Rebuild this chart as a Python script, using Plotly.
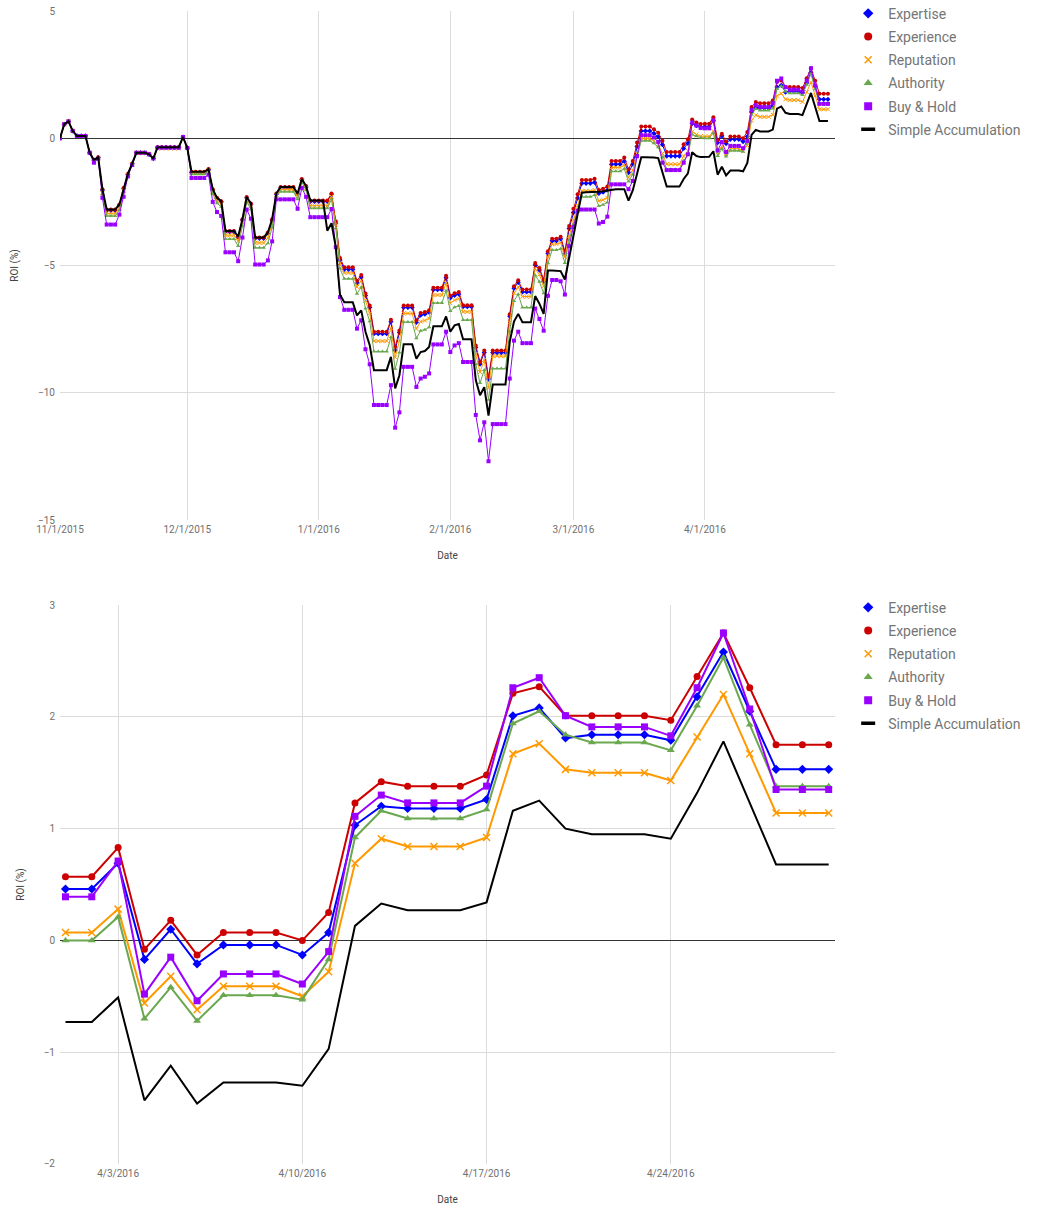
import pandas as pd
import plotly.graph_objects as go

# ---------------- data (ROI %, daily, 11/1/2015 .. 4/30/2016) ----------------
dates = pd.date_range("2015-11-01", "2016-04-30", freq="D")

experience = [
    # Nov
    0, 0.55, 0.66, 0.29, 0.09, 0.09, 0.09, -0.57, -0.85, -0.75, -2.0, -2.8, -2.8, -2.8, -2.6,
    -1.95, -1.4, -1.0, -0.57, -0.57, -0.57, -0.63, -0.79, -0.35, -0.35, -0.35, -0.35, -0.35, -0.35, 0.05,
    # Dec
    -0.38, -1.32, -1.32, -1.32, -1.32, -1.21, -2.0, -2.34, -2.47, -3.64, -3.64, -3.64, -3.86, -3.18, -2.31,
    -2.56, -3.9, -3.9, -3.9, -3.7, -3.18, -2.17, -1.91, -1.91, -1.91, -1.91, -2.17, -1.6, -1.88, -2.45, -2.45,
    # Jan
    -2.45, -2.45, -2.45, -2.17, -3.26, -4.7, -5.07, -5.07, -5.07, -5.6, -5.37, -6.1, -6.57, -7.6, -7.6,
    -7.6, -7.6, -7.13, -8.2, -7.55, -6.57, -6.57, -6.57, -7.15, -6.87, -6.83, -6.76, -5.87, -5.87, -5.87, -5.4,
    # Feb
    -6.19, -6.09, -6.04, -6.56, -6.56, -6.56, -8.14, -8.79, -8.34, -9.38, -8.34, -8.34, -8.34, -8.34, -6.91,
    -5.81, -5.58, -5.94, -5.94, -5.94, -4.9, -5.1, -5.55, -4.44, -3.95, -3.95, -3.87, -4.44, -3.45,
    # Mar
    -2.77, -2.2, -1.64, -1.64, -1.64, -1.59, -2.03, -1.98, -1.9, -0.89, -0.89, -0.89, -0.76, -1.22, -0.89,
    -0.17, 0.46, 0.46, 0.46, 0.35, 0.22, -0.1, -0.54, -0.54, -0.54, -0.54, -0.24, -0.04, 0.74, 0.62, 0.56,
    # Apr
    0.57, 0.57, 0.83, -0.08, 0.18, -0.13, 0.07, 0.07, 0.07, 0.0, 0.25, 1.23, 1.42, 1.38, 1.38,
    1.38, 1.48, 2.21, 2.27, 2.01, 2.01, 2.01, 2.01, 1.97, 2.36, 2.75, 2.26, 1.75, 1.75, 1.75,
]

expertise = [
    0, 0.55, 0.66, 0.29, 0.09, 0.09, 0.09, -0.57, -0.86, -0.76, -2.03, -2.83, -2.83, -2.83, -2.63,
    -1.97, -1.41, -1.0, -0.57, -0.57, -0.57, -0.63, -0.79, -0.36, -0.36, -0.36, -0.36, -0.36, -0.36, 0.05,
    -0.38, -1.35, -1.35, -1.35, -1.35, -1.24, -2.03, -2.37, -2.5, -3.67, -3.67, -3.67, -3.89, -3.21, -2.34,
    -2.59, -3.93, -3.93, -3.93, -3.73, -3.21, -2.2, -1.94, -1.94, -1.94, -1.94, -2.2, -1.63, -1.91, -2.48, -2.48,
    -2.48, -2.48, -2.48, -2.2, -3.34, -4.78, -5.15, -5.15, -5.15, -5.68, -5.45, -6.18, -6.65, -7.68, -7.68,
    -7.68, -7.68, -7.21, -8.33, -7.63, -6.65, -6.65, -6.65, -7.23, -6.95, -6.91, -6.84, -5.95, -5.95, -5.95, -5.48,
    -6.27, -6.17, -6.12, -6.62, -6.62, -6.62, -8.22, -8.87, -8.42, -9.46, -8.42, -8.42, -8.42, -8.42, -6.99,
    -5.89, -5.66, -6.04, -6.04, -6.04, -4.98, -5.18, -5.63, -4.52, -4.03, -4.03, -3.95, -4.52, -3.55,
    -2.92, -2.35, -1.77, -1.77, -1.77, -1.73, -2.17, -2.12, -2.04, -1.02, -1.02, -1.02, -0.9, -1.35, -1.02,
    -0.32, 0.29, 0.29, 0.29, 0.19, 0.06, -0.25, -0.7, -0.7, -0.7, -0.7, -0.4, -0.2, 0.58, 0.5, 0.45,
    0.46, 0.46, 0.69, -0.17, 0.10, -0.21, -0.04, -0.04, -0.04, -0.13, 0.07, 1.03, 1.20, 1.18, 1.18,
    1.18, 1.26, 2.01, 2.08, 1.81, 1.84, 1.84, 1.84, 1.79, 2.18, 2.58, 2.05, 1.53, 1.53, 1.53,
]

reputation = [
    0, 0.55, 0.66, 0.29, 0.09, 0.09, 0.09, -0.57, -0.9, -0.78, -2.15, -2.95, -2.95, -2.95, -2.75,
    -2.05, -1.45, -1.02, -0.57, -0.57, -0.57, -0.63, -0.79, -0.4, -0.4, -0.4, -0.4, -0.4, -0.4, 0.05,
    -0.38, -1.37, -1.37, -1.37, -1.37, -1.25, -2.1, -2.45, -2.59, -3.81, -3.81, -3.81, -4.05, -3.32, -2.41,
    -2.68, -4.11, -4.11, -4.11, -3.92, -3.35, -2.22, -2.01, -2.01, -2.01, -2.01, -2.29, -1.67, -1.96, -2.65, -2.65,
    -2.65, -2.65, -2.65, -2.29, -3.39, -4.9, -5.29, -5.29, -5.29, -5.84, -5.6, -6.38, -6.87, -7.97, -7.97,
    -7.97, -7.97, -7.46, -8.61, -7.97, -6.88, -6.88, -6.88, -7.49, -7.2, -7.16, -7.08, -6.16, -6.16, -6.16, -5.69,
    -6.48, -6.36, -6.3, -6.82, -6.82, -6.82, -8.49, -9.19, -8.71, -9.81, -8.56, -8.56, -8.56, -8.56, -7.24,
    -6.09, -5.84, -6.22, -6.22, -6.22, -5.13, -5.36, -5.81, -4.67, -4.16, -4.16, -4.1, -4.66, -3.85,
    -3.22, -2.65, -2.07, -2.07, -2.07, -2.03, -2.47, -2.42, -2.34, -1.15, -1.15, -1.15, -1.05, -1.55, -1.25,
    -0.6, -0.01, -0.01, -0.01, -0.1, -0.25, -0.6, -1.02, -1.02, -1.02, -1.02, -0.7, -0.5, 0.26, 0.15, 0.08,
    0.07, 0.07, 0.28, -0.56, -0.32, -0.62, -0.41, -0.41, -0.41, -0.50, -0.28, 0.69, 0.91, 0.84, 0.84,
    0.84, 0.92, 1.67, 1.76, 1.53, 1.50, 1.50, 1.50, 1.43, 1.82, 2.20, 1.67, 1.14, 1.14, 1.14,
]

authority = [
    0, 0.55, 0.66, 0.29, 0.09, 0.09, 0.09, -0.57, -0.92, -0.79, -2.2, -3.05, -3.05, -3.05, -2.82,
    -2.1, -1.47, -1.03, -0.57, -0.57, -0.57, -0.63, -0.79, -0.38, -0.38, -0.38, -0.38, -0.38, -0.38, 0.05,
    -0.38, -1.41, -1.41, -1.41, -1.41, -1.29, -2.19, -2.55, -2.69, -3.96, -3.96, -3.96, -4.23, -3.45, -2.5,
    -2.79, -4.3, -4.3, -4.3, -4.12, -3.51, -2.26, -2.1, -2.1, -2.1, -2.1, -2.4, -1.73, -2.04, -2.75, -2.75,
    -2.75, -2.75, -2.75, -2.4, -3.54, -5.12, -5.52, -5.52, -5.52, -6.11, -5.85, -6.69, -7.19, -8.38, -8.38,
    -8.38, -8.38, -7.82, -9.06, -8.42, -7.22, -7.22, -7.22, -7.86, -7.56, -7.52, -7.43, -6.47, -6.47, -6.47, -5.99,
    -6.79, -6.64, -6.58, -7.14, -7.14, -7.14, -8.88, -9.62, -9.1, -10.27, -9.05, -9.05, -9.05, -9.05, -7.59,
    -6.39, -6.13, -6.65, -6.65, -6.65, -5.38, -5.64, -6.09, -4.91, -4.39, -4.39, -4.34, -4.9, -4.0,
    -3.39, -2.82, -2.3, -2.3, -2.3, -2.23, -2.66, -2.61, -2.52, -1.3, -1.3, -1.3, -1.2, -1.7, -1.42,
    -0.75, -0.1, -0.1, -0.1, -0.2, -0.35, -0.75, -1.22, -1.22, -1.22, -1.22, -0.88, -0.65, 0.15, 0.08, 0.02,
    0.0, 0.0, 0.21, -0.70, -0.42, -0.72, -0.49, -0.49, -0.49, -0.53, -0.17, 0.92, 1.16, 1.09, 1.09,
    1.09, 1.17, 1.94, 2.05, 1.84, 1.77, 1.77, 1.77, 1.70, 2.10, 2.53, 1.93, 1.38, 1.38, 1.38,
]

buy_hold = [
    0, 0.55, 0.66, 0.29, 0.09, 0.09, 0.09, -0.57, -0.96, -0.8, -2.34, -3.39, -3.39, -3.39, -3.0,
    -2.3, -1.5, -1.05, -0.57, -0.57, -0.57, -0.63, -0.79, -0.37, -0.37, -0.37, -0.37, -0.37, -0.37, 0.05,
    -0.38, -1.56, -1.56, -1.56, -1.56, -1.43, -2.5, -2.9, -3.05, -4.48, -4.48, -4.48, -4.83, -3.9, -2.8,
    -3.16, -4.96, -4.96, -4.96, -4.8, -4.05, -2.4, -2.4, -2.4, -2.4, -2.4, -2.77, -1.95, -2.3, -3.1, -3.1,
    -3.1, -3.1, -3.1, -2.78, -4.28, -6.24, -6.74, -6.74, -6.74, -7.48, -7.15, -8.29, -8.88, -10.48, -10.48,
    -10.48, -10.48, -9.7, -11.37, -10.77, -8.98, -8.98, -8.98, -9.77, -9.44, -9.37, -9.24, -8.1, -8.1, -8.1, -7.6,
    -8.4, -8.14, -8.05, -8.79, -8.79, -8.79, -10.87, -11.87, -11.16, -12.69, -11.23, -11.23, -11.23, -11.23, -9.44,
    -7.95, -7.6, -8.05, -8.05, -8.05, -6.69, -7.1, -7.56, -6.19, -5.57, -5.57, -5.62, -6.14, -4.24,
    -3.49, -2.85, -2.8, -2.8, -2.8, -2.8, -3.35, -3.29, -3.08, -1.81, -1.81, -1.81, -1.81, -2.0, -1.68,
    -0.7, 0.12, 0.12, 0.12, 0.03, -0.14, -0.96, -1.25, -1.25, -1.25, -1.25, -0.96, -0.63, 0.62, 0.5, 0.4,
    0.39, 0.39, 0.71, -0.48, -0.15, -0.54, -0.30, -0.30, -0.30, -0.39, -0.10, 1.11, 1.30, 1.23, 1.23,
    1.23, 1.38, 2.26, 2.35, 2.01, 1.91, 1.91, 1.91, 1.83, 2.26, 2.75, 2.07, 1.35, 1.35, 1.35,
]

simple_acc = [
    0, 0.55, 0.66, 0.29, 0.09, 0.09, 0.09, -0.57, -0.85, -0.75, -2.0, -2.8, -2.8, -2.8, -2.6,
    -1.95, -1.4, -1.0, -0.57, -0.57, -0.57, -0.63, -0.79, -0.35, -0.35, -0.35, -0.35, -0.35, -0.35, 0.05,
    -0.38, -1.32, -1.32, -1.32, -1.32, -1.21, -2.0, -2.34, -2.47, -3.64, -3.64, -3.64, -3.86, -3.18, -2.31,
    -2.56, -3.9, -3.9, -3.9, -3.7, -3.18, -2.17, -1.91, -1.91, -1.91, -1.91, -2.17, -1.6, -1.88, -2.45, -2.45,
    -2.45, -2.45, -3.63, -3.34, -4.28, -6.15, -6.44, -6.44, -6.44, -6.96, -6.76, -7.6, -8.13, -9.11, -9.11,
    -9.11, -9.11, -8.59, -9.83, -9.31, -8.09, -8.09, -8.09, -8.66, -8.4, -8.36, -8.2, -7.39, -7.39, -7.39, -7.0,
    -7.6, -7.35, -7.3, -7.9, -7.9, -7.9, -9.5, -10.1, -9.78, -10.9, -9.67, -9.67, -9.67, -9.67, -8.0,
    -7.2, -6.9, -7.23, -7.23, -7.23, -6.2, -6.5, -6.9, -5.2, -5.2, -5.2, -5.22, -5.55, -4.63,
    -3.85, -2.99, -2.14, -2.12, -2.12, -2.1, -2.1, -2.08, -2.05, -2.0, -2.0, -2.0, -2.0, -2.45, -2.05,
    -1.4, -0.75, -0.75, -0.75, -0.76, -0.78, -1.3, -1.9, -1.9, -1.9, -1.9, -1.6, -1.38, -0.55, -0.7, -0.74,
    -0.73, -0.73, -0.51, -1.43, -1.12, -1.46, -1.27, -1.27, -1.27, -1.30, -0.97, 0.13, 0.33, 0.27, 0.27,
    0.27, 0.34, 1.16, 1.25, 1.00, 0.95, 0.95, 0.95, 0.91, 1.32, 1.78, 1.23, 0.68, 0.68, 0.68,
]

series_names = ["Expertise", "Experience", "Reputation", "Authority", "Buy & Hold", "Simple Accumulation"]
series_values = [expertise, experience, reputation, authority, buy_hold, simple_acc]
series_colors = ["#0000ff", "#cc0000", "#ff9900", "#6aa84f", "#9900ff", "#000000"]
series_symbols = ["diamond", "circle", "x-thin", "triangle-up", "square", None]

top_xticks = ["2015-11-01", "2015-12-01", "2016-01-01", "2016-02-01", "2016-03-01", "2016-04-01"]
bottom_xticks = ["2016-04-03", "2016-04-10", "2016-04-17", "2016-04-24"]
top_yticks = [-15, -10, -5, 0, 5]
bottom_yticks = [-2, -1, 0, 1, 2, 3]
april_start = 152  # index of 4/1/2016

FONT = "Roboto, Arial, sans-serif"
fig = go.Figure()


def add_series(xv, yv, name, color, symbol, xa, ya, big):
    if symbol is None:
        fig.add_trace(go.Scatter(x=xv, y=yv, mode="lines", name=name, showlegend=False,
                                 line=dict(color=color, width=2), xaxis=xa, yaxis=ya))
        return
    msize = 7 if big else 4
    lw = 2 if big else 1
    marker = dict(symbol=symbol, size=msize, color=color)
    if symbol == "x-thin":
        marker = dict(symbol=symbol, size=msize, color=color,
                      line=dict(width=1.5 if big else 1, color=color))
    fig.add_trace(go.Scatter(x=xv, y=yv, mode="lines+markers", name=name, showlegend=False,
                             line=dict(color=color, width=lw), marker=marker, xaxis=xa, yaxis=ya))


for nm, vals, col, sym in zip(series_names, series_values, series_colors, series_symbols):
    add_series(dates, vals, nm, col, sym, "x", "y", False)
for nm, vals, col, sym in zip(series_names, series_values, series_colors, series_symbols):
    add_series(dates[april_start:], vals[april_start:], nm, col, sym, "x2", "y2", True)

# legend-only entries (marker symbols like the reference)
for lg in ["legend", "legend2"]:
    for nm, col, sym in zip(series_names, series_colors, series_symbols):
        if sym is None:
            mk = dict(symbol="line-ew", size=10, line=dict(width=3.5, color=col))
        elif sym == "x-thin":
            mk = dict(symbol=sym, size=7, color=col, line=dict(width=1.5, color=col))
        else:
            mk = dict(symbol=sym, size=8, color=col)
        fig.add_trace(go.Scatter(x=[None], y=[None], mode="markers", name=nm, marker=mk,
                                 legend=lg, legendgroup=lg + nm, showlegend=True,
                                 xaxis="x", yaxis="y"))

grid = "#dcdcdc"
tickfont = dict(family=FONT, size=10, color="#6f6f6f")
titlefont = dict(family=FONT, size=10, color="#444444")

fig.update_layout(
    width=1043, height=1206, autosize=False,
    margin=dict(l=60, r=208, t=11, b=42, autoexpand=False),
    paper_bgcolor="white", plot_bgcolor="white",
    font=dict(family=FONT),
    hovermode=False,
    xaxis=dict(domain=[0, 1], anchor="y", type="date",
               range=["2015-11-01", "2016-05-01 16:00"],
               tickvals=top_xticks, tickformat="%-m/%-d/%Y",
               showgrid=True, gridcolor=grid, gridwidth=1, zeroline=False,
               showline=False, ticks="", tickfont=tickfont, ticklabelstandoff=2,
               title=dict(text="Date", font=titlefont, standoff=17)),
    yaxis=dict(domain=[0.5585, 1], anchor="x", range=[-15, 5],
               tickvals=top_yticks, showgrid=True, gridcolor=grid,
               zeroline=True, zerolinecolor="#333333", zerolinewidth=1,
               showline=False, ticks="", tickfont=tickfont, ticklabelstandoff=4,
               ticklabeloverflow="allow",
               title=dict(text="ROI (%)", font=titlefont, standoff=17)),
    xaxis2=dict(domain=[0, 1], anchor="y2", type="date",
                range=["2016-03-31 19:00", "2016-04-30 05:45"],
                tickvals=bottom_xticks, tickformat="%-m/%-d/%Y",
                showgrid=True, gridcolor=grid, gridwidth=1, zeroline=False,
                showline=False, ticks="", tickfont=tickfont, ticklabelstandoff=2,
                title=dict(text="Date", font=titlefont, standoff=17)),
    yaxis2=dict(domain=[0, 0.4848], anchor="x2", range=[-2, 3],
                tickvals=bottom_yticks, showgrid=True, gridcolor=grid,
                zeroline=True, zerolinecolor="#333333", zerolinewidth=1,
                showline=False, ticks="", tickfont=tickfont, ticklabelstandoff=4,
                title=dict(text="ROI (%)", font=titlefont, standoff=17)),
    legend=dict(x=1.017, y=1.0115, xanchor="left", yanchor="top",
                font=dict(family=FONT, size=14, color="#757575"),
                bgcolor="rgba(0,0,0,0)", itemclick=False, tracegroupgap=2),
    legend2=dict(x=1.017, y=0.4963, xanchor="left", yanchor="top",
                 font=dict(family=FONT, size=14, color="#757575"),
                 bgcolor="rgba(0,0,0,0)", itemclick=False, tracegroupgap=2),
)

# the page's default 8px body margin would shift the figure; remove it
fig.write_html("out.html", config={"displayModeBar": False},
               post_script="document.body.style.margin='0px';")
